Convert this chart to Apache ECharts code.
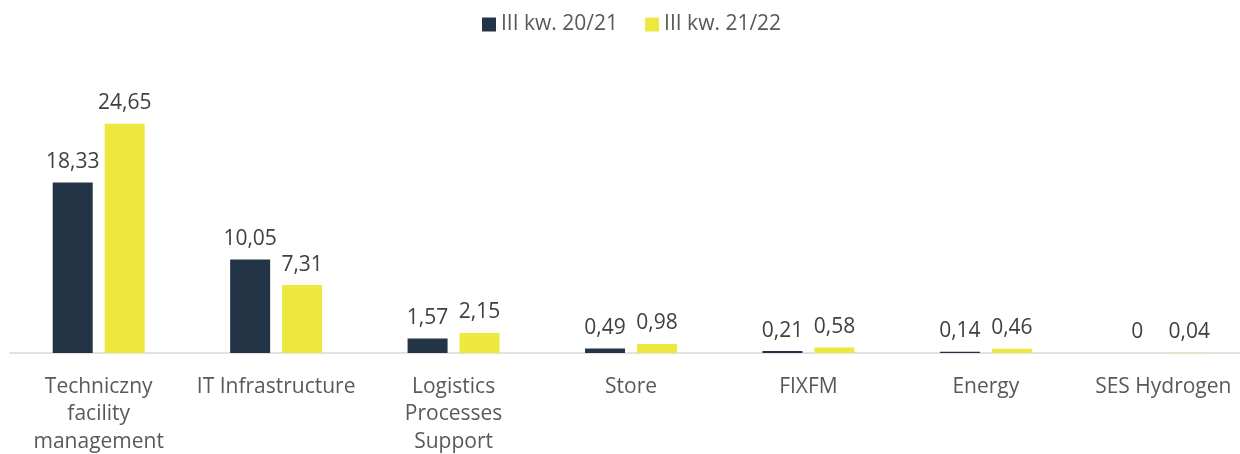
<!DOCTYPE html>
<html><head><meta charset="utf-8">
<script src="https://cdn.jsdelivr.net/npm/echarts@6/dist/echarts.min.js"></script>
<style>html,body{margin:0;padding:0;background:#fff}#c{width:1240px;height:454px}</style>
</head><body><div id="c"></div>
<script>
const categories = ['Techniczny\nfacility\nmanagement', 'IT Infrastructure', 'Logistics\nProcesses\nSupport', 'Store', 'FIXFM', 'Energy', 'SES Hydrogen'];
const seriesNames = ['III kw. 20/21', 'III kw. 21/22'];
const values2021 = [18.33, 10.05, 1.57, 0.49, 0.21, 0.14, 0];
const values2122 = [24.65, 7.31, 2.15, 0.98, 0.58, 0.46, 0.04];
const colors = ['#243447', '#EDE83D'];
const FONT = 'Open Sans';
const fmt = p => String(p.value).replace('.', ',');
const chart = echarts.init(document.getElementById('c'));
const mk = (name, data, color) => ({
  name, type: 'bar', data, barWidth: 40, barGap: '30%',
  itemStyle: { color },
  label: { show: true, position: 'top', distance: 10, formatter: fmt, color: '#404040', fontSize: 21, fontFamily: FONT },
  emphasis: { disabled: true }
});
chart.setOption({
  animation: false,
  textStyle: { fontFamily: FONT },
  legend: {
    top: 9, left: 477, itemWidth: 14, itemHeight: 14, itemGap: 27,
    icon: 'rect',
    textStyle: { color: '#595959', fontSize: 21, fontFamily: FONT },
    data: seriesNames
  },
  grid: { left: 10, right: -12, top: 74, bottom: 101, containLabel: false, outerBoundsMode: 'none' },
  xAxis: {
    type: 'category', data: categories,
    axisLine: { lineStyle: { color: '#D9D9D9', width: 1.5 } },
    axisTick: { show: false },
    axisLabel: { interval: 0, color: '#595959', fontSize: 21, fontFamily: FONT, lineHeight: 27.5, margin: 20 }
  },
  yAxis: { type: 'value', min: 0, max: 30, show: false, splitLine: { show: false } },
  series: [mk(seriesNames[0], values2021, colors[0]), mk(seriesNames[1], values2122, colors[1])]
});
</script></body></html>
